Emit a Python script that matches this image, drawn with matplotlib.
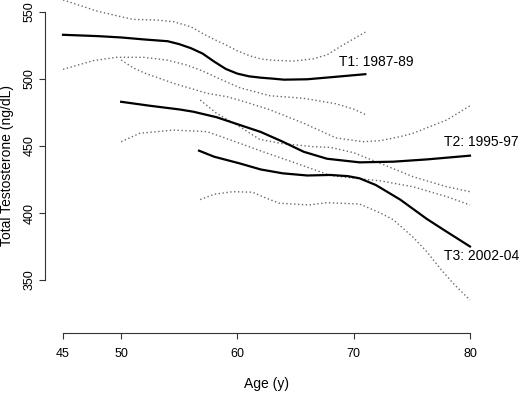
import matplotlib
matplotlib.use("Agg")
import matplotlib.pyplot as plt

plt.rcParams['font.family'] = ['Liberation Sans', 'DejaVu Sans']

# T1: 1987-89
t1_age = [45, 48, 50, 52, 54, 55, 56, 57, 58, 59, 60, 61, 62, 63, 64, 66, 68, 71]
t1_fit = [533, 532, 531, 529.5, 528.2, 526, 523, 519, 513, 507.5, 504, 502, 501, 500.3, 499.5, 499.8, 501.3, 503.6]
t1_up_age = [45, 48, 51, 53, 54.5, 56, 57, 58, 59, 60, 61, 62, 63, 64.8, 66.5, 67.7, 69, 71]
t1_up = [559, 550.5, 544.5, 544, 542.8, 539, 534, 529.5, 525.5, 521, 517.5, 515, 514, 513.4, 515, 518, 525, 535]
t1_lo_age = [45, 47.6, 49.6, 51.9, 53.9, 55.6, 57, 58.5, 60.2, 62.8, 65.7, 68.5, 70, 71]
t1_lo = [507.2, 513.7, 516.2, 516.2, 514.2, 510.5, 506, 500, 493.5, 487.5, 485.6, 481.5, 477.5, 473.5]

# T2: 1995-97
t2_age = [50, 52.5, 55, 56.2, 58.2, 60.2, 62, 63.9, 65.7, 67.7, 70.5, 73.4, 76.3, 80]
t2_fit = [483, 480, 477.3, 475.6, 471.5, 465.7, 460.5, 453.2, 445.7, 440.5, 437.8, 438.3, 440, 442.8]
t2_up_age = [50, 51, 52, 54.5, 57.4, 59.1, 61, 62.8, 65.7, 68.5, 70.8, 72.3, 74, 75.1, 78, 80]
t2_up = [514.2, 508.5, 504.5, 496.8, 489.3, 486.8, 482, 477, 467, 456, 453.2, 454, 457, 459.5, 469.4, 480]
t2_lo_age = [50, 51.6, 54.5, 57.4, 59.4, 60.2, 62.2, 65.1, 68, 70.5, 72.3, 75.1, 78, 80]
t2_lo = [453.2, 459.5, 461.9, 460.7, 454.5, 452, 445.7, 437, 428, 425.5, 424, 419.6, 412.2, 406]

# T3: 2002-04
t3_age = [56.7, 58, 60.2, 62, 63.9, 66, 68, 69.5, 70.5, 71.9, 74, 76.3, 78, 80]
t3_fit = [446.5, 442, 437, 432.5, 429.6, 428, 428.4, 427.5, 425.9, 420.9, 410, 395.5, 386, 375]
t3_up_age = [56.8, 58.2, 60.2, 61.9, 63.7, 66.5, 68, 70, 72.3, 75.1, 78, 80]
t3_up = [484.3, 474.4, 464.4, 455, 452, 449.5, 449, 445, 437, 427.1, 419.6, 415.9]
t3_lo_age = [56.8, 58, 59.6, 61.3, 62.5, 63.6, 66.2, 67.7, 70.5, 72.3, 73.4, 75.1, 76.3, 77.4, 78.5, 80]
t3_lo = [410, 414, 415.9, 415.5, 411, 407.3, 406, 407.7, 406.7, 400, 395, 382, 371, 359, 348, 335]

labels = ["T1: 1987-89", "T2: 1995-97", "T3: 2002-04"]
label_pos = [(68.7, 513), (77.8, 453), (77.8, 368)]

x_ticks = [45, 50, 60, 70, 80]
y_ticks = [350, 400, 450, 500, 550]

fig = plt.figure(figsize=(5.2, 3.93), dpi=100)
ax = fig.add_axes([45 / 520, 60 / 393, 443 / 520, 333 / 393])

dot = dict(color='#6a6a6a', lw=1.0, linestyle=(0, (1, 1.8)))
solid = dict(color='black', lw=1.6)

for a, v in [(t1_up_age, t1_up), (t1_lo_age, t1_lo),
             (t2_up_age, t2_up), (t2_lo_age, t2_lo),
             (t3_up_age, t3_up), (t3_lo_age, t3_lo)]:
    ax.plot(a, v, **dot)
for a, v in [(t1_age, t1_fit), (t2_age, t2_fit), (t3_age, t3_fit)]:
    ax.plot(a, v, **solid)

for lab, (x, y) in zip(labels, label_pos):
    ax.text(x, y, lab, fontsize=10, ha='left', va='center', clip_on=False)

ax.set_xlim(43.45, 81.55)
ax.set_ylim(310.45, 558.96)

for s in ['top', 'right']:
    ax.spines[s].set_visible(False)
ax.spines['left'].set_bounds(350, 550)
ax.spines['bottom'].set_bounds(45, 80)
for s in ['left', 'bottom']:
    ax.spines[s].set_color('#333333')
    ax.spines[s].set_linewidth(0.8)

ax.set_xticks(x_ticks)
ax.set_yticks(y_ticks)
ax.set_yticklabels([str(t) for t in y_ticks], rotation=90, va='center')
ax.tick_params(axis='both', labelsize=9, length=4, width=0.8, color='#333333')
ax.tick_params(axis='x', pad=6.5)
ax.tick_params(axis='y', pad=2.5)

ax.set_xlabel("Age (y)", fontsize=10)
ax.xaxis.set_label_coords(0.5, -44 / 333)
ax.set_ylabel("Total Testosterone (ng/dL)", fontsize=10)
ax.yaxis.set_label_coords(-31 / 443, (333 - 165) / 333)

fig.savefig("out.png", dpi=100)
